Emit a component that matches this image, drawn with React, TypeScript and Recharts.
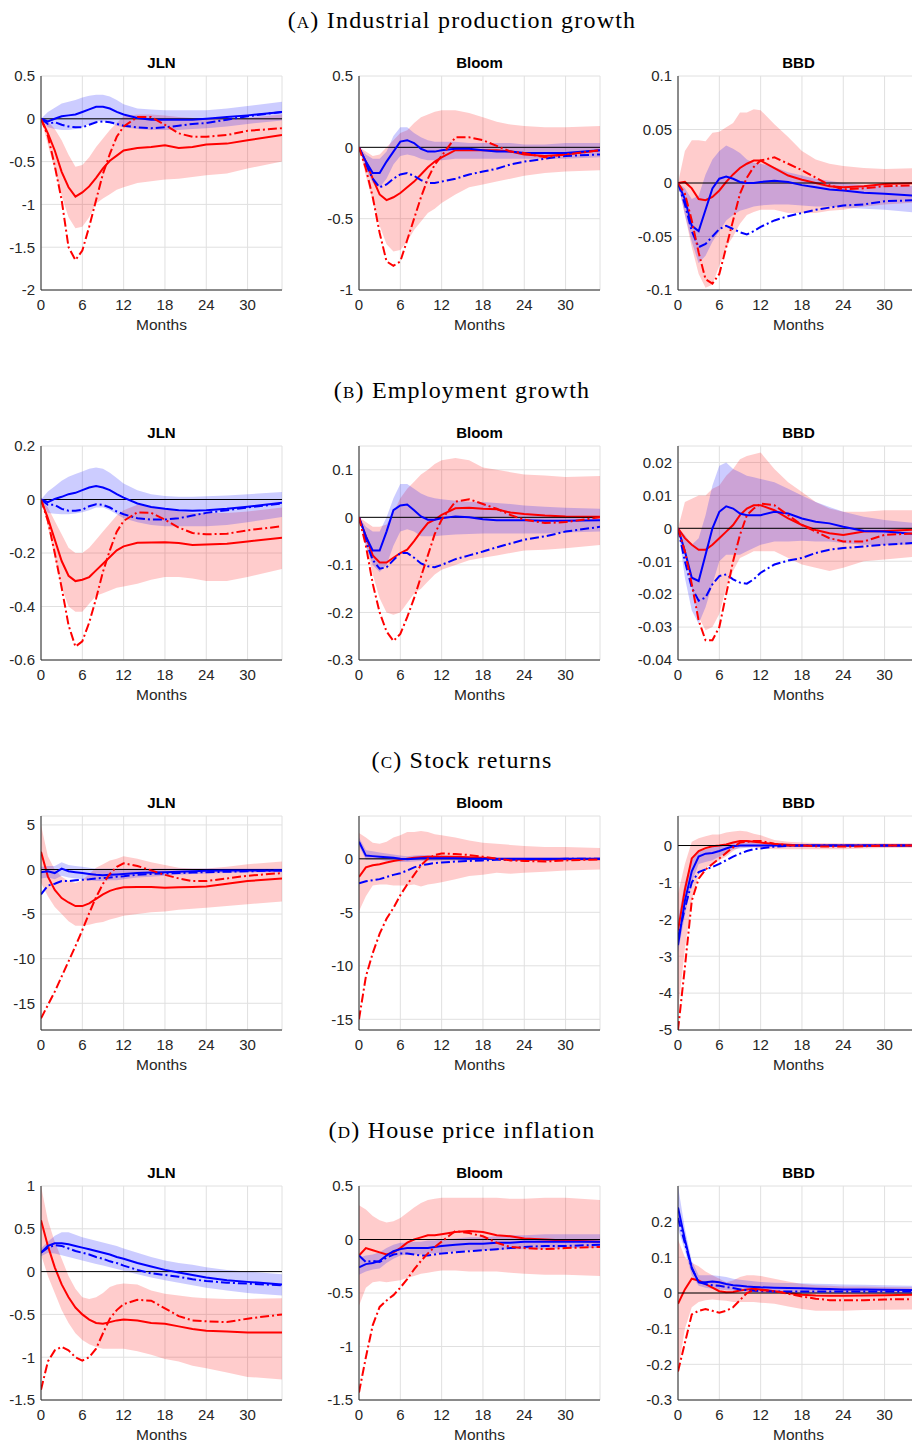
import { ComposedChart, Area, Line, XAxis, YAxis, CartesianGrid, ReferenceLine } from 'recharts'

// impulse responses, months after the shock
const MONTHS = [0, 1, 2, 3, 4, 5, 6, 7, 8, 9, 10, 11, 12, 14, 16, 18, 20, 22, 24, 27, 30, 35]
const X_TICKS = [0, 6, 12, 18, 24, 30]

// rl/rh = red band, r = red solid, rd = red dash-dot, bl/bh = blue band, b = blue solid, bd = blue dash-dot
const ipJln = {
  rl: [0, -0.3, -0.6, -0.9, -1.15, -1.28, -1.26, -1.15, -0.99, -0.93, -0.88, -0.83, -0.8, -0.75, -0.73, -0.71, -0.7, -0.68, -0.66, -0.64, -0.58, -0.5],
  rh: [0, -0.03, -0.12, -0.25, -0.42, -0.56, -0.54, -0.45, -0.33, -0.23, -0.13, -0.05, 0.03, 0.05, 0.05, 0.04, 0.02, 0.01, 0, 0, 0.01, 0.05],
  r: [0, -0.17, -0.37, -0.62, -0.8, -0.91, -0.86, -0.79, -0.69, -0.58, -0.49, -0.43, -0.37, -0.34, -0.33, -0.31, -0.34, -0.33, -0.3, -0.29, -0.25, -0.19],
  rd: [0, -0.2, -0.55, -0.95, -1.5, -1.65, -1.54, -1.26, -0.95, -0.64, -0.41, -0.21, -0.09, 0.02, 0.02, -0.07, -0.17, -0.21, -0.21, -0.19, -0.14, -0.11],
  bl: [0, -0.1, -0.12, -0.13, -0.13, -0.12, -0.1, -0.06, -0.03, -0.03, -0.05, -0.08, -0.1, -0.12, -0.13, -0.13, -0.13, -0.12, -0.11, -0.09, -0.06, -0.02],
  bh: [0, 0.08, 0.13, 0.18, 0.2, 0.22, 0.25, 0.27, 0.28, 0.28, 0.26, 0.22, 0.17, 0.12, 0.11, 0.1, 0.1, 0.1, 0.1, 0.12, 0.15, 0.2],
  b: [0, -0.03, 0, 0.03, 0.04, 0.05, 0.08, 0.11, 0.14, 0.14, 0.12, 0.08, 0.05, 0.01, -0.01, -0.01, -0.01, -0.01, 0, 0.02, 0.04, 0.08],
  bd: [0, -0.06, -0.04, -0.07, -0.09, -0.1, -0.1, -0.07, -0.04, -0.03, -0.04, -0.06, -0.08, -0.1, -0.11, -0.1, -0.08, -0.06, -0.05, -0.01, 0.03, 0.08],
}
const ipBloom = {
  rl: [0, -0.2, -0.38, -0.55, -0.68, -0.73, -0.72, -0.66, -0.58, -0.52, -0.46, -0.43, -0.39, -0.33, -0.28, -0.26, -0.24, -0.22, -0.2, -0.18, -0.17, -0.16],
  rh: [0, -0.03, -0.06, -0.05, 0, 0.05, 0.1, 0.12, 0.17, 0.21, 0.23, 0.25, 0.26, 0.26, 0.24, 0.21, 0.18, 0.16, 0.15, 0.14, 0.14, 0.15],
  r: [0, -0.1, -0.22, -0.33, -0.37, -0.35, -0.32, -0.28, -0.24, -0.19, -0.14, -0.1, -0.07, -0.02, -0.02, -0.02, -0.02, -0.03, -0.05, -0.06, -0.05, -0.02],
  rd: [0, -0.15, -0.35, -0.6, -0.8, -0.83, -0.8, -0.65, -0.5, -0.35, -0.22, -0.12, -0.06, 0.07, 0.07, 0.05, 0.01, -0.03, -0.04, -0.07, -0.05, -0.02],
  bl: [0, -0.15, -0.25, -0.28, -0.22, -0.12, -0.06, -0.05, -0.06, -0.08, -0.09, -0.09, -0.09, -0.08, -0.08, -0.08, -0.08, -0.08, -0.08, -0.08, -0.08, -0.07],
  bh: [0, -0.05, -0.08, -0.08, -0.03, 0.08, 0.14, 0.14, 0.1, 0.07, 0.05, 0.04, 0.04, 0.04, 0.03, 0.03, 0.03, 0.03, 0.02, 0.02, 0.03, 0.03],
  b: [0, -0.1, -0.18, -0.18, -0.1, -0.03, 0.04, 0.05, 0.03, -0.01, -0.03, -0.03, -0.02, -0.01, -0.01, -0.02, -0.03, -0.03, -0.04, -0.04, -0.04, -0.02],
  bd: [0, -0.12, -0.22, -0.28, -0.26, -0.22, -0.19, -0.18, -0.2, -0.23, -0.25, -0.25, -0.24, -0.22, -0.19, -0.17, -0.15, -0.12, -0.1, -0.08, -0.06, -0.05],
}
const ipBbd = {
  rl: [0, -0.03, -0.06, -0.085, -0.098, -0.095, -0.077, -0.06, -0.05, -0.038, -0.03, -0.027, -0.025, -0.025, -0.028, -0.028, -0.028, -0.026, -0.025, -0.022, -0.02, -0.018],
  rh: [0, 0.03, 0.04, 0.04, 0.039, 0.047, 0.048, 0.052, 0.056, 0.066, 0.066, 0.069, 0.068, 0.055, 0.043, 0.03, 0.022, 0.018, 0.016, 0.014, 0.013, 0.014],
  r: [0, 0.001, -0.005, -0.015, -0.016, -0.013, -0.007, 0.001, 0.008, 0.014, 0.018, 0.021, 0.021, 0.014, 0.007, 0.003, 0, -0.003, -0.004, -0.003, -0.001, 0],
  rd: [0, -0.01, -0.035, -0.065, -0.09, -0.094, -0.085, -0.06, -0.035, -0.01, 0.005, 0.015, 0.021, 0.024, 0.018, 0.012, 0.005, -0.002, -0.006, -0.005, -0.003, -0.002],
  bl: [0, -0.03, -0.055, -0.075, -0.068, -0.055, -0.045, -0.035, -0.03, -0.026, -0.024, -0.022, -0.021, -0.02, -0.02, -0.021, -0.022, -0.022, -0.023, -0.024, -0.025, -0.028],
  bh: [0, -0.005, -0.015, -0.012, 0.008, 0.022, 0.03, 0.035, 0.032, 0.028, 0.022, 0.019, 0.018, 0.015, 0.01, 0.007, 0.004, 0.002, 0, -0.002, -0.002, -0.003],
  b: [0, -0.015, -0.04, -0.045, -0.025, -0.005, 0.004, 0.006, 0.004, 0.001, 0, 0, 0.001, 0.002, 0.001, -0.002, -0.004, -0.006, -0.007, -0.009, -0.01, -0.012],
  bd: [0, -0.02, -0.045, -0.06, -0.057, -0.05, -0.043, -0.04, -0.043, -0.046, -0.048, -0.045, -0.041, -0.035, -0.031, -0.028, -0.025, -0.023, -0.021, -0.02, -0.017, -0.016],
}

const empJln = {
  rl: [0, -0.1, -0.22, -0.33, -0.4, -0.42, -0.42, -0.39, -0.36, -0.35, -0.34, -0.33, -0.325, -0.315, -0.3, -0.29, -0.29, -0.295, -0.305, -0.305, -0.29, -0.26],
  rh: [0, -0.03, -0.08, -0.13, -0.18, -0.2, -0.2, -0.18, -0.15, -0.12, -0.09, -0.06, -0.04, -0.02, -0.025, -0.035, -0.045, -0.05, -0.05, -0.05, -0.045, -0.03],
  r: [0, -0.07, -0.15, -0.23, -0.285, -0.305, -0.3, -0.29, -0.265, -0.24, -0.215, -0.19, -0.175, -0.162, -0.161, -0.16, -0.163, -0.17, -0.168, -0.165, -0.157, -0.143],
  rd: [0, -0.08, -0.2, -0.33, -0.47, -0.55, -0.53, -0.46, -0.37, -0.27, -0.19, -0.12, -0.08, -0.048, -0.05, -0.075, -0.105, -0.125, -0.13, -0.128, -0.115, -0.1],
  bl: [0, -0.05, -0.053, -0.055, -0.055, -0.052, -0.048, -0.04, -0.03, -0.03, -0.04, -0.055, -0.07, -0.085, -0.095, -0.1, -0.1, -0.1, -0.1, -0.095, -0.085, -0.065],
  bh: [0, 0.03, 0.05, 0.07, 0.085, 0.095, 0.105, 0.115, 0.12, 0.115, 0.1, 0.08, 0.06, 0.035, 0.02, 0.013, 0.01, 0.01, 0.012, 0.015, 0.02, 0.028],
  b: [0, -0.01, 0.002, 0.01, 0.02, 0.025, 0.035, 0.045, 0.05, 0.045, 0.035, 0.02, 0.007, -0.015, -0.028, -0.035, -0.04, -0.042, -0.04, -0.035, -0.027, -0.012],
  bd: [0, -0.02, -0.02, -0.035, -0.042, -0.042, -0.038, -0.025, -0.018, -0.02, -0.03, -0.045, -0.055, -0.07, -0.075, -0.075, -0.07, -0.06, -0.05, -0.04, -0.03, -0.015],
}
const empBloom = {
  rl: [0, -0.06, -0.12, -0.17, -0.2, -0.205, -0.2, -0.18, -0.16, -0.15, -0.135, -0.12, -0.11, -0.1, -0.09, -0.085, -0.08, -0.075, -0.07, -0.068, -0.065, -0.058],
  rh: [0, -0.01, -0.02, -0.02, -0.015, 0.01, 0.04, 0.06, 0.075, 0.09, 0.1, 0.112, 0.12, 0.125, 0.12, 0.105, 0.1, 0.095, 0.09, 0.088, 0.085, 0.087],
  r: [0, -0.04, -0.08, -0.095, -0.095, -0.085, -0.075, -0.068, -0.05, -0.03, -0.012, -0.005, 0.005, 0.019, 0.02, 0.018, 0.017, 0.01, 0.007, 0.004, 0.002, 0.001],
  rd: [0, -0.06, -0.14, -0.2, -0.24, -0.26, -0.245, -0.21, -0.17, -0.125, -0.08, -0.035, -0.005, 0.033, 0.038, 0.028, 0.018, 0.005, -0.005, -0.012, -0.01, 0],
  bl: [0, -0.06, -0.1, -0.115, -0.1, -0.06, -0.03, -0.025, -0.03, -0.04, -0.04, -0.04, -0.038, -0.036, -0.035, -0.034, -0.034, -0.034, -0.034, -0.034, -0.032, -0.03],
  bh: [0, -0.02, -0.03, -0.03, 0, 0.04, 0.07, 0.07, 0.06, 0.05, 0.044, 0.04, 0.038, 0.035, 0.033, 0.032, 0.03, 0.028, 0.025, 0.022, 0.02, 0.018],
  b: [0, -0.04, -0.07, -0.07, -0.03, 0.015, 0.025, 0.027, 0.015, 0.002, -0.005, -0.005, -0.002, 0.002, 0, -0.004, -0.006, -0.006, -0.006, -0.007, -0.007, -0.006],
  bd: [0, -0.05, -0.09, -0.108, -0.105, -0.09, -0.075, -0.075, -0.085, -0.097, -0.103, -0.105, -0.1, -0.088, -0.08, -0.072, -0.063, -0.055, -0.047, -0.04, -0.03, -0.02],
}
const empBbd = {
  rl: [0, -0.008, -0.018, -0.027, -0.031, -0.03, -0.026, -0.018, -0.013, -0.009, -0.008, -0.007, -0.007, -0.007, -0.009, -0.011, -0.012, -0.013, -0.012, -0.01, -0.0095, -0.0085],
  rh: [0, 0.008, 0.009, 0.01, 0.01, 0.012, 0.013, 0.016, 0.018, 0.021, 0.022, 0.0225, 0.023, 0.018, 0.014, 0.011, 0.008, 0.006, 0.005, 0.005, 0.0055, 0.0055],
  r: [0, -0.003, -0.005, -0.0065, -0.0065, -0.005, -0.003, -0.001, 0.001, 0.004, 0.006, 0.007, 0.007, 0.0055, 0.003, 0.001, -0.0005, -0.0015, -0.002, -0.001, -0.0008, -0.0003],
  rd: [0, -0.007, -0.017, -0.028, -0.034, -0.034, -0.03, -0.02, -0.01, -0.002, 0.004, 0.006, 0.0075, 0.007, 0.004, 0.001, -0.001, -0.003, -0.004, -0.004, -0.002, -0.0015],
  bl: [0, -0.015, -0.025, -0.029, -0.024, -0.017, -0.01, -0.008, -0.008, -0.008, -0.007, -0.006, -0.005, -0.004, -0.004, -0.0038, -0.004, -0.004, -0.0045, -0.005, -0.005, -0.005],
  bh: [0, -0.002, -0.005, -0.003, 0.004, 0.013, 0.019, 0.02, 0.018, 0.017, 0.016, 0.0155, 0.015, 0.014, 0.012, 0.01, 0.008, 0.0065, 0.005, 0.0035, 0.0025, 0.0015],
  b: [0, -0.007, -0.015, -0.016, -0.008, 0, 0.005, 0.0067, 0.006, 0.0045, 0.004, 0.004, 0.004, 0.005, 0.0045, 0.003, 0.002, 0.0015, 0.0005, -0.0008, -0.001, -0.0018],
  bd: [0, -0.01, -0.018, -0.022, -0.021, -0.017, -0.0145, -0.014, -0.0155, -0.0165, -0.0168, -0.0155, -0.0135, -0.011, -0.0098, -0.009, -0.0075, -0.0065, -0.006, -0.0055, -0.005, -0.0043],
}

const stockJln = {
  rl: [-1.5, -3.0, -4.2, -5.0, -5.8, -6.3, -6.3, -6.2, -6.0, -5.9, -5.6, -5.4, -5.2, -5.0, -4.8, -4.7, -4.5, -4.4, -4.3, -4.1, -3.9, -3.6],
  rh: [5.0, 1.5, 0, -0.8, -1.3, -1.5, -1.2, -0.5, 0.2, 0.6, 1.0, 1.2, 1.5, 1.2, 0.8, 0.5, 0.2, 0.1, 0.1, 0.3, 0.6, 0.9],
  r: [2, -0.8, -2.3, -3.2, -3.7, -4.1, -4.1, -3.8, -3.3, -2.8, -2.4, -2.15, -2.0, -1.95, -1.95, -2.05, -2.0, -1.95, -1.9, -1.6, -1.3, -1.0],
  rd: [-16.7, -15.2, -13.7, -12.0, -10.3, -8.6, -6.8, -4.9, -3.1, -1.6, -0.5, 0.3, 0.7, 0.4, -0.1, -0.6, -1.0, -1.3, -1.3, -1.0, -0.7, -0.4],
  bl: [-1.0, -0.9, -1.1, -0.7, -0.9, -1.0, -1.1, -1.2, -1.3, -1.3, -1.2, -1.2, -1.1, -0.9, -0.8, -0.7, -0.6, -0.5, -0.45, -0.4, -0.3, -0.3],
  bh: [0.3, 0.4, 0.4, 0.8, 0.5, 0.4, 0.3, 0.2, 0.1, 0.1, 0.1, 0.1, 0.1, 0.1, 0.1, 0.1, 0.1, 0.1, 0.1, 0.1, 0.1, 0.1],
  b: [-0.3, -0.2, -0.4, 0.1, -0.2, -0.3, -0.4, -0.5, -0.6, -0.65, -0.6, -0.55, -0.5, -0.4, -0.35, -0.3, -0.25, -0.2, -0.15, -0.1, -0.1, -0.1],
  bd: [-2.8, -1.8, -1.6, -1.3, -1.3, -1.2, -1.15, -1.1, -1.0, -0.95, -0.9, -0.8, -0.75, -0.6, -0.5, -0.45, -0.4, -0.35, -0.3, -0.25, -0.2, -0.1],
}
const stockBloom = {
  rl: [-4.9, -3.5, -2.5, -2.4, -2.4, -2.5, -2.5, -2.5, -2.4, -2.6, -2.4, -2.3, -2.2, -1.9, -1.6, -1.5, -1.3, -1.4, -1.3, -1.2, -1.1, -1.0],
  rh: [2.4, 2.0, 1.5, 1.4, 1.6, 2.0, 2.2, 2.5, 2.5, 2.6, 2.5, 2.3, 2.2, 2.0, 1.7, 1.5, 1.4, 1.3, 1.2, 1.1, 1.1, 1.0],
  r: [-1.7, -0.8, -0.6, -0.5, -0.35, -0.2, -0.1, 0, 0.1, 0.15, 0.2, 0.2, 0.2, 0.2, 0.15, 0.1, 0, -0.05, -0.1, -0.1, -0.05, -0.05],
  rd: [-15.0, -11.0, -8.8, -7.0, -5.6, -4.6, -3.4, -2.4, -1.5, -0.6, 0, 0.35, 0.5, 0.45, 0.35, 0.2, 0, -0.15, -0.2, -0.25, -0.15, -0.05],
  bl: [1.2, -0.1, -0.1, -0.1, -0.2, -0.2, -0.3, -0.3, -0.25, -0.2, -0.2, -0.2, -0.15, -0.15, -0.15, -0.1, -0.1, -0.1, -0.1, -0.1, -0.1, -0.1],
  bh: [2.0, 0.8, 0.7, 0.6, 0.5, 0.4, 0.3, 0.25, 0.3, 0.35, 0.35, 0.3, 0.3, 0.25, 0.2, 0.15, 0.1, 0.1, 0.1, 0.1, 0.1, 0.1],
  b: [1.6, 0.3, 0.25, 0.2, 0.15, 0.1, 0, -0.05, 0, 0.05, 0.05, 0.05, 0.05, 0.05, 0, 0, 0, 0, 0, 0, 0, 0],
  bd: [-2.3, -2.1, -2.0, -1.9, -1.7, -1.5, -1.35, -1.1, -0.8, -0.6, -0.5, -0.4, -0.35, -0.25, -0.2, -0.15, -0.1, -0.1, -0.05, -0.05, 0, 0],
}
const stockBbd = {
  rl: [-4.5, -2.8, -1.5, -0.8, -0.6, -0.5, -0.4, -0.3, -0.15, -0.05, -0.05, -0.05, -0.08, -0.1, -0.1, -0.1, -0.1, -0.1, -0.1, -0.08, -0.07, -0.06],
  rh: [-1.3, -0.5, 0.1, 0.2, 0.25, 0.3, 0.3, 0.35, 0.38, 0.4, 0.38, 0.32, 0.28, 0.15, 0.1, 0.08, 0.07, 0.06, 0.06, 0.06, 0.06, 0.06],
  r: [-2.3, -1.2, -0.35, -0.15, -0.07, -0.02, 0, 0.03, 0.08, 0.12, 0.12, 0.1, 0.08, 0.04, 0.02, 0, 0, 0, 0, 0, 0, 0],
  rd: [-5.0, -3.3, -1.5, -0.9, -0.65, -0.5, -0.35, -0.2, -0.05, 0.08, 0.1, 0.12, 0.12, 0.05, 0, 0, -0.02, -0.03, -0.03, -0.02, 0, 0],
  bl: [-2.9, -1.9, -1.0, -0.5, -0.45, -0.4, -0.3, -0.2, -0.1, -0.08, -0.06, -0.05, -0.04, -0.02, -0.02, -0.02, -0.02, -0.02, -0.02, -0.02, -0.02, -0.02],
  bh: [-2.0, -1.0, -0.4, -0.15, -0.1, -0.05, 0, 0.05, 0.08, 0.1, 0.1, 0.08, 0.05, 0.03, 0.02, 0.02, 0.02, 0.02, 0.02, 0.02, 0.02, 0.02],
  b: [-2.7, -1.5, -0.7, -0.3, -0.22, -0.2, -0.15, -0.08, -0.02, 0, 0, 0, 0, 0, 0, 0, 0, 0, 0, 0, 0, 0],
  bd: [-2.5, -1.7, -1.0, -0.72, -0.65, -0.58, -0.5, -0.4, -0.3, -0.22, -0.15, -0.1, -0.08, -0.03, -0.01, 0, 0, 0, 0, 0, 0, 0],
}

const houseJln = {
  rl: [0.2, -0.05, -0.25, -0.45, -0.6, -0.72, -0.8, -0.85, -0.88, -0.9, -0.9, -0.9, -0.9, -0.93, -0.97, -1.02, -1.05, -1.1, -1.13, -1.18, -1.23, -1.26],
  rh: [1.0, 0.6, 0.35, 0.15, -0.05, -0.2, -0.3, -0.32, -0.3, -0.25, -0.18, -0.15, -0.14, -0.15, -0.22, -0.26, -0.28, -0.3, -0.31, -0.32, -0.32, -0.31],
  r: [0.6, 0.3, 0.05, -0.15, -0.3, -0.42, -0.5, -0.56, -0.6, -0.61, -0.59, -0.57, -0.56, -0.57, -0.6, -0.61, -0.64, -0.67, -0.69, -0.7, -0.71, -0.71],
  rd: [-1.38, -1.05, -0.92, -0.88, -0.92, -1.0, -1.04, -1.0, -0.9, -0.72, -0.55, -0.45, -0.38, -0.33, -0.34, -0.43, -0.52, -0.57, -0.58, -0.59, -0.55, -0.5],
  bl: [0.18, 0.22, 0.21, 0.19, 0.17, 0.15, 0.13, 0.11, 0.09, 0.07, 0.05, 0.03, 0.01, -0.03, -0.07, -0.1, -0.13, -0.16, -0.19, -0.22, -0.25, -0.28],
  bh: [0.27, 0.35, 0.42, 0.46, 0.46, 0.43, 0.4, 0.38, 0.36, 0.34, 0.32, 0.3, 0.27, 0.22, 0.17, 0.13, 0.1, 0.08, 0.05, 0.02, 0, -0.03],
  b: [0.22, 0.3, 0.33, 0.33, 0.32, 0.3, 0.28, 0.26, 0.24, 0.22, 0.2, 0.17, 0.15, 0.1, 0.06, 0.02, -0.01, -0.04, -0.07, -0.1, -0.12, -0.15],
  bd: [0.22, 0.28, 0.31, 0.3, 0.27, 0.24, 0.22, 0.2, 0.17, 0.15, 0.12, 0.1, 0.07, 0.02, -0.02, -0.04, -0.06, -0.09, -0.11, -0.13, -0.14, -0.16],
}
const houseBloom = {
  rl: [-0.62, -0.45, -0.4, -0.39, -0.4, -0.39, -0.38, -0.36, -0.34, -0.32, -0.31, -0.3, -0.29, -0.29, -0.3, -0.3, -0.3, -0.31, -0.32, -0.33, -0.33, -0.34],
  rh: [0.32, 0.28, 0.22, 0.18, 0.16, 0.17, 0.2, 0.25, 0.3, 0.34, 0.37, 0.38, 0.39, 0.39, 0.39, 0.39, 0.39, 0.38, 0.38, 0.39, 0.39, 0.37],
  r: [-0.15, -0.08, -0.1, -0.12, -0.14, -0.12, -0.08, -0.03, 0, 0.02, 0.04, 0.04, 0.05, 0.07, 0.08, 0.07, 0.04, 0.03, 0.01, 0, -0.01, -0.02],
  rd: [-1.43, -1.1, -0.8, -0.63, -0.57, -0.52, -0.45, -0.37, -0.28, -0.2, -0.13, -0.07, -0.02, 0.08, 0.06, 0.03, -0.03, -0.07, -0.08, -0.09, -0.08, -0.07],
  bl: [-0.33, -0.3, -0.28, -0.27, -0.22, -0.18, -0.15, -0.14, -0.14, -0.14, -0.13, -0.13, -0.12, -0.11, -0.1, -0.1, -0.1, -0.09, -0.09, -0.09, -0.08, -0.08],
  bh: [-0.17, -0.15, -0.14, -0.12, -0.08, -0.05, -0.03, -0.03, -0.02, -0.02, -0.01, -0.01, 0, 0.01, 0.02, 0.02, 0.03, 0.04, 0.04, 0.05, 0.05, 0.05],
  b: [-0.26, -0.23, -0.22, -0.2, -0.15, -0.11, -0.09, -0.08, -0.08, -0.08, -0.08, -0.07, -0.06, -0.05, -0.04, -0.04, -0.03, -0.03, -0.02, -0.02, -0.02, -0.02],
  bd: [-0.15, -0.21, -0.2, -0.21, -0.17, -0.14, -0.13, -0.13, -0.14, -0.15, -0.15, -0.14, -0.13, -0.12, -0.11, -0.1, -0.09, -0.08, -0.07, -0.06, -0.06, -0.05],
}
const houseBbd = {
  rl: [-0.22, -0.1, -0.04, -0.025, -0.02, -0.018, -0.02, -0.022, -0.025, -0.025, -0.025, -0.025, -0.027, -0.03, -0.038, -0.045, -0.05, -0.05, -0.05, -0.048, -0.047, -0.046],
  rh: [0.15, 0.1, 0.085, 0.075, 0.06, 0.05, 0.04, 0.03, 0.035, 0.045, 0.05, 0.05, 0.048, 0.04, 0.032, 0.025, 0.022, 0.02, 0.018, 0.018, 0.017, 0.016],
  r: [-0.03, 0.01, 0.04, 0.035, 0.025, 0.015, 0.005, 0.002, 0.003, 0.007, 0.01, 0.012, 0.01, 0.005, 0, -0.005, -0.007, -0.008, -0.008, -0.007, -0.006, -0.005],
  rd: [-0.22, -0.14, -0.06, -0.05, -0.045, -0.05, -0.055, -0.05, -0.04, -0.02, 0, 0.008, 0.008, 0.005, -0.002, -0.01, -0.016, -0.02, -0.02, -0.02, -0.018, -0.017],
  bl: [0.18, 0.12, 0.05, 0.02, 0.015, 0.012, 0.01, 0.008, 0.006, 0.004, 0.003, 0.002, 0.001, 0, -0.001, -0.001, -0.001, -0.002, -0.002, -0.002, -0.002, -0.003],
  bh: [0.3, 0.18, 0.09, 0.05, 0.05, 0.05, 0.048, 0.045, 0.04, 0.037, 0.035, 0.033, 0.031, 0.029, 0.028, 0.027, 0.026, 0.025, 0.024, 0.023, 0.022, 0.02],
  b: [0.24, 0.15, 0.07, 0.03, 0.03, 0.032, 0.03, 0.025, 0.022, 0.02, 0.018, 0.017, 0.016, 0.015, 0.014, 0.013, 0.012, 0.011, 0.01, 0.01, 0.009, 0.008],
  bd: [0.21, 0.14, 0.07, 0.03, 0.025, 0.022, 0.02, 0.017, 0.014, 0.01, 0.008, 0.006, 0.005, 0.004, 0.004, 0.004, 0.004, 0.004, 0.004, 0.004, 0.004, 0.004],
}

// y axes: domain and tick labels per panel
const ipTicks = [[-2, -1.5, -1, -0.5, 0, 0.5], [-1, -0.5, 0, 0.5], [-0.1, -0.05, 0, 0.05, 0.1]]
const ipDomains = [[-2, 0.5], [-1, 0.5], [-0.1, 0.1]]
const empTicks = [[-0.6, -0.4, -0.2, 0, 0.2], [-0.3, -0.2, -0.1, 0, 0.1], [-0.04, -0.03, -0.02, -0.01, 0, 0.01, 0.02]]
const empDomains = [[-0.6, 0.2], [-0.3, 0.15], [-0.04, 0.025]]
const stockTicks = [[-15, -10, -5, 0, 5], [-15, -10, -5, 0], [-5, -4, -3, -2, -1, 0]]
const stockDomains = [[-18, 6], [-16, 4], [-5, 0.8]]
const houseTicks = [[-1.5, -1, -0.5, 0, 0.5, 1], [-1.5, -1, -0.5, 0, 0.5], [-0.3, -0.2, -0.1, 0, 0.1, 0.2]]
const houseDomains = [[-1.5, 1], [-1.5, 0.5], [-0.3, 0.3]]

const PANEL_TITLES = ['JLN', 'Bloom', 'BBD']
const SECTIONS = [
  { letter: '(a)', name: 'Industrial production growth', sets: [ipJln, ipBloom, ipBbd], ticks: ipTicks, domains: ipDomains },
  { letter: '(b)', name: 'Employment growth', sets: [empJln, empBloom, empBbd], ticks: empTicks, domains: empDomains },
  { letter: '(c)', name: 'Stock returns', sets: [stockJln, stockBloom, stockBbd], ticks: stockTicks, domains: stockDomains },
  { letter: '(d)', name: 'House price inflation', sets: [houseJln, houseBloom, houseBbd], ticks: houseTicks, domains: houseDomains },
]

const COL_X = [41, 359, 678]
const ROW_Y = [76, 446, 816, 1186]
const PLOT_W = 241
const PLOT_H = 214
const SANS = '"Liberation Sans", Arial, Helvetica, sans-serif'
const DASH_DOT = '9 3 2 3'

type Series = { rl: number[]; rh: number[]; r: number[]; rd: number[]; bl: number[]; bh: number[]; b: number[]; bd: number[] }

function Panel({ x, y, title, s, domain, ticks }: { x: number; y: number; title: string; s: Series; domain: number[]; ticks: number[] }) {
  const rows = MONTHS.map((m, i) => ({
    m,
    rBand: [s.rl[i], s.rh[i]],
    bBand: [s.bl[i], s.bh[i]],
    r: s.r[i],
    rd: s.rd[i],
    b: s.b[i],
    bd: s.bd[i],
  }))
  return (
    <div style={{ position: 'absolute', left: x - 50, top: y - 40 }}>
      <div style={{ position: 'absolute', left: 50, top: 18, width: PLOT_W, textAlign: 'center', fontFamily: SANS, fontWeight: 'bold', fontSize: 15, lineHeight: '18px', color: '#000' }}>
        {title}
      </div>
      <ComposedChart width={50 + PLOT_W + 20} height={40 + PLOT_H + 42} data={rows} margin={{ top: 40, right: 20, left: 0, bottom: 0 }}>
        <CartesianGrid stroke="#e0e0e0" strokeWidth={1} />
        <XAxis
          dataKey="m"
          type="number"
          domain={[0, 35]}
          ticks={X_TICKS}
          allowDataOverflow
          height={42}
          tickSize={0}
          tickMargin={9}
          tick={{ fontSize: 15, fill: '#262626', fontFamily: SANS }}
          axisLine={{ stroke: '#262626' }}
          label={{ value: 'Months', position: 'insideBottom', offset: 2, fontSize: 15.5, fill: '#262626', fontFamily: SANS }}
        />
        <YAxis
          type="number"
          domain={domain}
          ticks={ticks}
          allowDataOverflow
          width={50}
          tickSize={0}
          tickMargin={6}
          interval={0}
          tickFormatter={(v: number) => String(v)}
          tick={{ fontSize: 15, fill: '#262626', fontFamily: SANS }}
          axisLine={{ stroke: '#262626' }}
        />
        <Area dataKey="rBand" type="linear" stroke="none" fill="#ff0000" fillOpacity={0.2} isAnimationActive={false} />
        <Line dataKey="r" type="linear" stroke="#ff0000" strokeWidth={2} dot={false} isAnimationActive={false} />
        <Area dataKey="bBand" type="linear" stroke="none" fill="#0000ff" fillOpacity={0.2} isAnimationActive={false} />
        <ReferenceLine y={0} stroke="#000" strokeWidth={1} />
        <Line dataKey="b" type="linear" stroke="#0000ff" strokeWidth={2} dot={false} isAnimationActive={false} />
        <Line dataKey="bd" type="linear" stroke="#0000ff" strokeWidth={2} strokeDasharray={DASH_DOT} dot={false} isAnimationActive={false} />
        <Line dataKey="rd" type="linear" stroke="#ff0000" strokeWidth={2} strokeDasharray={DASH_DOT} dot={false} isAnimationActive={false} />
      </ComposedChart>
    </div>
  )
}

export default function App() {
  return (
    <div style={{ position: 'absolute', left: 0, top: 0, width: 912, height: 1443, overflow: 'hidden', background: '#fff' }}>
      {SECTIONS.map((sec, r) => (
        <div key={sec.name}>
          <div style={{ position: 'absolute', left: 0, width: 924, top: ROW_Y[r] - 71, height: 30, lineHeight: '30px', textAlign: 'center', fontFamily: '"Liberation Serif", "DejaVu Serif", serif', fontSize: 24, letterSpacing: 1.2, color: '#000' }}>
            <span style={{ fontVariant: 'small-caps' }}>{sec.letter}</span> {sec.name}
          </div>
          {sec.sets.map((s, c) => (
            <Panel key={c} x={COL_X[c]} y={ROW_Y[r]} title={PANEL_TITLES[c]} s={s} domain={sec.domains[c]} ticks={sec.ticks[c]} />
          ))}
        </div>
      ))}
    </div>
  )
}
